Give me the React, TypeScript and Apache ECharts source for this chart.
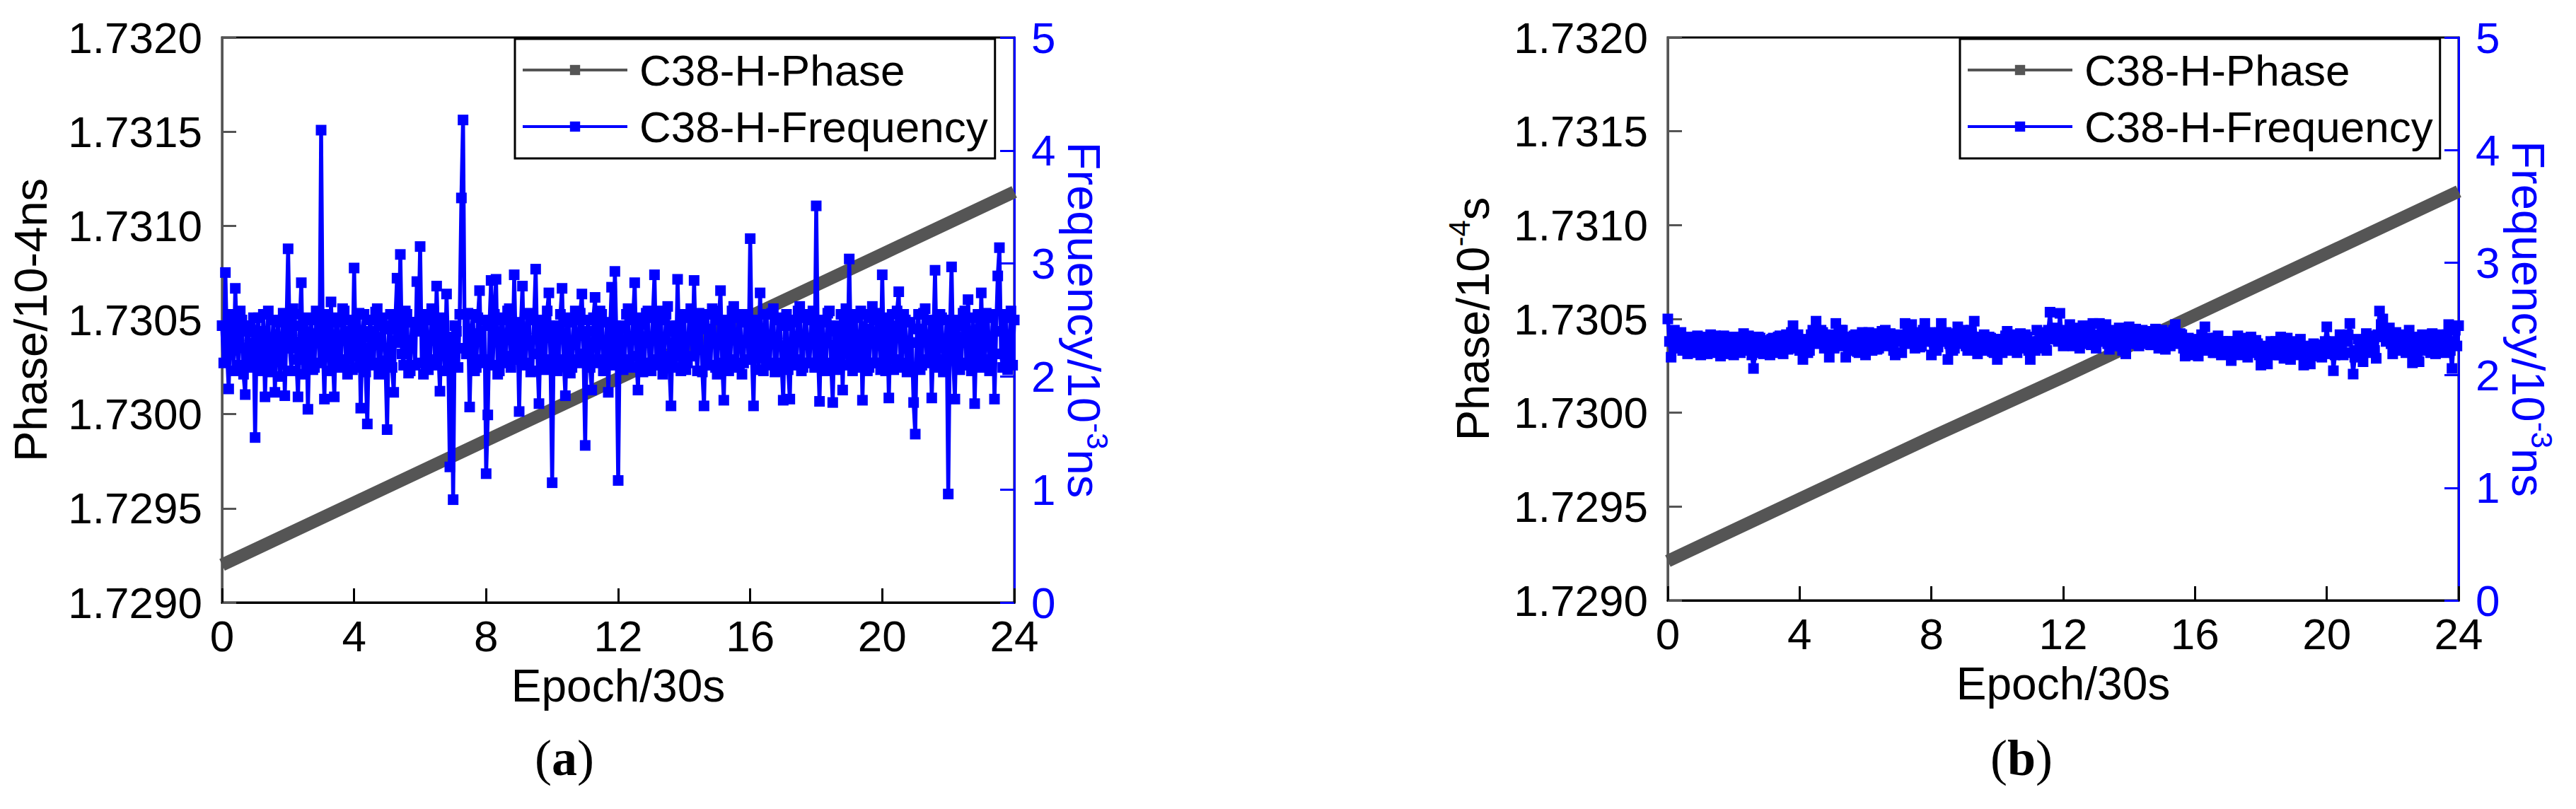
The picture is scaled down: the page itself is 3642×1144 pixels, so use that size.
import React, { useEffect, useRef } from "react";
import * as echarts from "echarts";

const FONT = '"Liberation Sans", Arial, sans-serif';
const SERIF = '"Liberation Serif", "Times New Roman", serif';

const SERIES_NAMES = ["C38-H-Phase", "C38-H-Frequency"];
const X_TICKS = [0, 4, 8, 12, 16, 20, 24];
const EPOCH_STEP = 0.05;

// Phase (10^-4 s) read at the x ticks
const phaseEpochs = [0, 4, 8, 12, 16, 20, 24];
const phaseA = [1.7292, 1.72953, 1.72986, 1.73019, 1.73052, 1.73085, 1.73118];
const phaseB = [1.72921, 1.72954, 1.72987, 1.73019, 1.73052, 1.73085, 1.73118];

// Frequency (10^-3 ns), panel (a), one value every 0.05 epoch unit (20 per row)
const freqA = [
  2.45, 2.12, 2.92, 2.20, 1.89, 2.48, 2.55, 2.05, 2.78, 2.30, 2.10, 2.58, 2.50, 2.02, 1.84, 2.45, 2.40, 2.08, 2.15, 2.52,
  1.46, 2.40, 2.52, 2.10, 2.05, 2.55, 1.82, 2.30, 2.58, 2.04, 2.12, 2.50, 1.86, 2.35, 2.48, 2.00, 2.20, 2.56, 1.83, 2.42,
  3.13, 2.25, 2.05, 2.60, 2.55, 2.15, 1.82, 2.45, 2.83, 2.02, 2.18, 2.52, 1.71, 2.38, 2.50, 2.06, 2.08, 2.58, 2.56, 2.12,
  4.18, 2.30, 1.80, 2.55, 2.45, 2.05, 2.66, 2.20, 1.82, 2.48, 2.52, 2.08, 2.10, 2.60, 2.58, 2.15, 2.02, 2.50, 2.40, 2.06,
  2.96, 2.18, 2.08, 2.56, 1.72, 2.35, 2.55, 2.04, 1.58, 2.40, 2.50, 2.10, 2.12, 2.57, 2.60, 2.02, 2.05, 2.52, 2.45, 2.14,
  1.53, 2.42, 2.55, 2.08, 1.86, 2.50, 2.87, 2.30, 3.08, 2.20, 2.10, 2.58, 2.55, 2.03, 2.05, 2.48, 2.48, 2.10, 2.84, 2.40,
  3.15, 2.12, 2.02, 2.55, 2.50, 2.06, 2.15, 2.60, 2.58, 2.10, 2.80, 2.25, 1.87, 2.52, 2.45, 2.05, 2.73, 2.20, 1.20, 2.35,
  0.91, 2.45, 2.40, 2.08, 2.55, 3.58, 4.27, 2.25, 2.20, 2.56, 1.73, 2.38, 2.55, 2.05, 2.08, 2.52, 2.76, 2.12, 2.15, 2.50,
  1.14, 1.66, 2.45, 2.85, 2.10, 2.55, 2.86, 2.02, 2.05, 2.50, 2.52, 2.12, 2.18, 2.58, 2.60, 2.08, 2.15, 2.90, 2.20, 2.48,
  1.69, 2.42, 2.80, 2.10, 2.12, 2.56, 2.55, 2.04, 2.05, 2.50, 2.95, 2.20, 1.76, 2.45, 2.50, 2.06, 2.15, 2.58, 2.74, 2.12,
  1.06, 2.38, 2.45, 2.05, 2.10, 2.55, 2.78, 2.15, 1.83, 2.48, 2.52, 2.03, 2.08, 2.50, 2.58, 2.12, 2.15, 2.56, 2.73, 2.20,
  1.39, 2.40, 2.50, 2.08, 1.88, 2.52, 2.70, 2.15, 2.12, 2.58, 2.55, 2.05, 2.05, 2.48, 1.86, 2.35, 2.79, 2.10, 2.93, 2.30,
  1.08, 2.42, 2.45, 2.06, 2.15, 2.55, 2.60, 2.10, 2.08, 2.50, 2.83, 2.18, 1.88, 2.46, 2.52, 2.04, 2.12, 2.56, 2.58, 2.10,
  2.05, 2.52, 2.90, 2.15, 2.10, 2.58, 2.50, 2.02, 2.18, 2.55, 2.62, 2.10, 1.74, 2.40, 2.45, 2.08, 2.86, 2.20, 2.05, 2.54,
  2.55, 2.06, 2.12, 2.52, 2.60, 2.18, 2.85, 2.25, 2.05, 2.56, 2.48, 2.04, 1.74, 2.42, 2.55, 2.10, 2.10, 2.60, 2.58, 2.08,
  2.02, 2.50, 2.76, 2.12, 1.79, 2.45, 2.50, 2.05, 2.15, 2.58, 2.62, 2.10, 2.08, 2.55, 2.52, 2.02, 2.12, 2.48, 2.55, 2.15,
  3.22, 2.20, 1.74, 2.50, 2.45, 2.06, 2.74, 2.18, 2.05, 2.55, 2.55, 2.10, 2.12, 2.56, 2.60, 2.04, 2.05, 2.52, 2.50, 2.12,
  1.79, 2.45, 2.55, 2.06, 1.80, 2.50, 2.48, 2.10, 2.15, 2.58, 2.62, 2.05, 2.08, 2.55, 2.52, 2.12, 2.12, 2.50, 2.58, 2.08,
  3.51, 2.25, 1.78, 2.48, 2.50, 2.05, 2.10, 2.56, 2.58, 2.12, 1.77, 2.40, 2.45, 2.06, 2.15, 2.55, 1.88, 2.42, 2.60, 2.10,
  3.04, 2.18, 2.05, 2.55, 2.52, 2.08, 2.15, 2.58, 1.79, 2.42, 2.55, 2.05, 2.08, 2.52, 2.62, 2.12, 2.12, 2.56, 2.50, 2.06,
  2.90, 2.15, 2.05, 2.52, 1.81, 2.45, 2.55, 2.06, 2.15, 2.58, 2.75, 2.10, 2.08, 2.55, 2.50, 2.04, 2.12, 2.48, 2.30, 1.77,
  1.49, 2.42, 2.55, 2.06, 2.10, 2.56, 2.60, 2.12, 2.15, 2.50, 1.81, 2.35, 2.94, 2.10, 2.08, 2.55, 2.52, 2.04, 2.15, 2.50,
  0.96, 2.40, 2.97, 2.15, 1.80, 2.45, 2.50, 2.06, 2.12, 2.56, 2.58, 2.10, 2.68, 2.20, 2.05, 2.52, 1.76, 2.38, 2.55, 2.08,
  2.74, 2.15, 2.10, 2.56, 2.52, 2.05, 2.15, 2.55, 1.80, 2.40, 2.89, 3.14, 2.20, 2.08, 2.52, 2.55, 2.06, 2.12, 2.58, 2.10,
  2.50,
];

// Frequency (10^-3 ns), panel (b), one value every 0.05 epoch unit (20 per row)
const freqB = [
  2.50, 2.30, 2.16, 2.35, 2.40, 2.24, 2.28, 2.36, 2.38, 2.22, 2.25, 2.33, 2.19, 2.27, 2.34, 2.21, 2.20, 2.32, 2.35, 2.22,
  2.18, 2.30, 2.34, 2.22, 2.19, 2.31, 2.36, 2.24, 2.20, 2.35, 2.33, 2.21, 2.17, 2.30, 2.35, 2.22, 2.19, 2.34, 2.32, 2.20,
  2.18, 2.32, 2.34, 2.21, 2.20, 2.33, 2.37, 2.24, 2.22, 2.35, 2.30, 2.18, 2.06, 2.20, 2.25, 2.34, 2.33, 2.21, 2.19, 2.30,
  2.31, 2.20, 2.18, 2.32, 2.33, 2.21, 2.20, 2.34, 2.35, 2.22, 2.19, 2.33, 2.36, 2.23, 2.24, 2.38, 2.44, 2.26, 2.28, 2.36,
  2.22, 2.30, 2.14, 2.28, 2.32, 2.20, 2.22, 2.36, 2.40, 2.28, 2.48, 2.32, 2.30, 2.40, 2.38, 2.24, 2.25, 2.35, 2.16, 2.30,
  2.36, 2.24, 2.46, 2.30, 2.28, 2.40, 2.40, 2.26, 2.16, 2.30, 2.34, 2.22, 2.22, 2.35, 2.36, 2.21, 2.20, 2.34, 2.38, 2.23,
  2.18, 2.33, 2.38, 2.24, 2.22, 2.35, 2.37, 2.23, 2.24, 2.36, 2.39, 2.27, 2.40, 2.30, 2.26, 2.37, 2.35, 2.22, 2.18, 2.32,
  2.30, 2.36, 2.20, 2.34, 2.46, 2.28, 2.30, 2.42, 2.45, 2.30, 2.24, 2.36, 2.38, 2.25, 2.26, 2.40, 2.46, 2.32, 2.30, 2.38,
  2.18, 2.30, 2.35, 2.22, 2.25, 2.38, 2.46, 2.30, 2.30, 2.38, 2.14, 2.28, 2.36, 2.22, 2.24, 2.37, 2.43, 2.30, 2.28, 2.40,
  2.38, 2.26, 2.22, 2.35, 2.40, 2.28, 2.48, 2.32, 2.19, 2.30, 2.34, 2.22, 2.36, 2.25, 2.22, 2.34, 2.33, 2.21, 2.20, 2.32,
  2.14, 2.28, 2.32, 2.20, 2.24, 2.35, 2.39, 2.26, 2.22, 2.34, 2.36, 2.23, 2.20, 2.33, 2.37, 2.24, 2.25, 2.36, 2.34, 2.22,
  2.14, 2.26, 2.30, 2.22, 2.40, 2.30, 2.25, 2.36, 2.38, 2.24, 2.22, 2.40, 2.56, 2.36, 2.32, 2.42, 2.40, 2.30, 2.55, 2.34,
  2.26, 2.38, 2.40, 2.28, 2.45, 2.32, 2.26, 2.40, 2.42, 2.27, 2.24, 2.38, 2.44, 2.30, 2.28, 2.40, 2.38, 2.27, 2.46, 2.32,
  2.24, 2.36, 2.46, 2.30, 2.30, 2.40, 2.45, 2.28, 2.23, 2.36, 2.40, 2.26, 2.28, 2.38, 2.42, 2.26, 2.22, 2.34, 2.19, 2.32,
  2.43, 2.30, 2.28, 2.38, 2.41, 2.28, 2.26, 2.37, 2.40, 2.28, 2.30, 2.39, 2.38, 2.27, 2.27, 2.38, 2.41, 2.29, 2.24, 2.36,
  2.40, 2.28, 2.23, 2.35, 2.38, 2.26, 2.30, 2.40, 2.45, 2.30, 2.28, 2.37, 2.36, 2.24, 2.17, 2.30, 2.33, 2.22, 2.18, 2.32,
  2.30, 2.22, 2.17, 2.30, 2.36, 2.26, 2.43, 2.30, 2.22, 2.33, 2.32, 2.20, 2.20, 2.33, 2.35, 2.22, 2.18, 2.30, 2.30, 2.20,
  2.22, 2.30, 2.13, 2.26, 2.30, 2.20, 2.35, 2.24, 2.18, 2.30, 2.33, 2.20, 2.16, 2.28, 2.34, 2.22, 2.20, 2.31, 2.28, 2.18,
  2.09, 2.22, 2.26, 2.16, 2.10, 2.24, 2.30, 2.19, 2.18, 2.30, 2.28, 2.18, 2.34, 2.22, 2.15, 2.28, 2.33, 2.20, 2.14, 2.27,
  2.30, 2.20, 2.18, 2.28, 2.32, 2.20, 2.09, 2.22, 2.26, 2.16, 2.10, 2.24, 2.28, 2.18, 2.17, 2.27, 2.25, 2.16, 2.20, 2.30,
  2.43, 2.28, 2.19, 2.30, 2.04, 2.18, 2.28, 2.20, 2.36, 2.24, 2.18, 2.30, 2.30, 2.36, 2.46, 2.20, 2.01, 2.16, 2.22, 2.32,
  2.30, 2.20, 2.12, 2.28, 2.37, 2.24, 2.20, 2.34, 2.35, 2.22, 2.15, 2.36, 2.57, 2.45, 2.50, 2.34, 2.30, 2.40, 2.42, 2.28,
  2.19, 2.32, 2.38, 2.24, 2.22, 2.34, 2.36, 2.22, 2.20, 2.35, 2.40, 2.24, 2.11, 2.26, 2.34, 2.20, 2.12, 2.30, 2.36, 2.22,
  2.22, 2.34, 2.30, 2.20, 2.37, 2.26, 2.19, 2.32, 2.32, 2.22, 2.36, 2.24, 2.20, 2.36, 2.45, 2.22, 2.06, 2.30, 2.40, 2.26,
  2.44,
];

const PHASE_MIN = 1.729;
const PHASE_MAX = 1.732;
const PHASE_STEP = 0.0005;
const FREQ_MIN = 0;
const FREQ_MAX = 5;
const FREQ_STEP = 1;

const GRAY = "#555555";
const BLUE = "#0000ff";

const pairs = (xs: number[], ys: number[]) => ys.map((v, i) => [xs[i], v]);
const epochsFor = (vals: number[]) => vals.map((_, i) => Math.round(i * EPOCH_STEP * 100) / 100);

function buildOption() {
  const grids = [
    { left: 314, top: 53, width: 1120, height: 799 },
    { left: 2358, top: 53, width: 1118, height: 796 },
  ];
  const xAxes = grids.map((_, gi) => ({
    type: "value",
    gridIndex: gi,
    min: X_TICKS[0],
    max: X_TICKS[X_TICKS.length - 1],
    interval: 4,
    name: "Epoch/30s",
    nameLocation: "middle",
    nameGap: 86,
    nameTextStyle: { fontSize: 64, fontFamily: FONT, color: "#000" },
    axisLine: { show: true, onZero: false, lineStyle: { color: "#000", width: 3 } },
    axisTick: { show: true, inside: true, length: 20, lineStyle: { color: "#000", width: 3 } },
    axisLabel: { fontSize: 62, fontFamily: FONT, color: "#000", margin: 16 },
    splitLine: { show: false },
  }));
  const leftNames = ["Phase/10-4ns", "{n|Phase/10}{sup|-4}{n|s}"];
  const rightNames = ["{n|Frequency/10}{sup|-3}{n|ns}", "{n|Frequency/10}{sup|-3}{n|ns}"];
  const yAxes: any[] = [];
  grids.forEach((_, gi) => {
    yAxes.push({
      type: "value",
      gridIndex: gi,
      position: "left",
      min: PHASE_MIN,
      max: PHASE_MAX,
      interval: PHASE_STEP,
      name: leftNames[gi],
      nameLocation: "middle",
      nameGap: gi === 0 ? 238 : 236,
      nameTextStyle: {
        fontSize: 65,
        fontFamily: FONT,
        color: "#000",
        rich: {
          n: { fontSize: 65, fontFamily: FONT, color: "#000", lineHeight: 80 },
          sup: { fontSize: 42, fontFamily: FONT, color: "#000", lineHeight: 42, verticalAlign: "top" },
        },
      },
      axisLine: { show: true, onZero: false, lineStyle: { color: GRAY, width: 3 } },
      axisTick: { show: true, inside: true, length: 20, lineStyle: { color: GRAY, width: 3 } },
      axisLabel: {
        fontSize: 62,
        fontFamily: FONT,
        color: "#000",
        margin: 28,
        formatter: (v: number) => v.toFixed(4),
      },
      splitLine: { show: false },
    });
    yAxes.push({
      type: "value",
      gridIndex: gi,
      position: "right",
      min: FREQ_MIN,
      max: FREQ_MAX,
      interval: FREQ_STEP,
      name: rightNames[gi],
      nameLocation: "middle",
      nameRotate: -90,
      nameGap: 58,
      nameTextStyle: {
        fontSize: 65,
        fontFamily: FONT,
        color: BLUE,
        rich: {
          n: { fontSize: 65, fontFamily: FONT, color: BLUE, lineHeight: 80 },
          sup: { fontSize: 42, fontFamily: FONT, color: BLUE, lineHeight: 42, verticalAlign: "top" },
        },
      },
      axisLine: { show: true, onZero: false, lineStyle: { color: BLUE, width: 3 } },
      axisTick: { show: true, inside: true, length: 20, lineStyle: { color: BLUE, width: 3 } },
      axisLabel: { fontSize: 62, fontFamily: FONT, color: BLUE, margin: 24 },
      splitLine: { show: false },
    });
  });

  const phases = [phaseA, phaseB];
  const freqs = [freqA, freqB];
  const series: any[] = [];
  grids.forEach((_, gi) => {
    series.push({
      name: SERIES_NAMES[0],
      type: "line",
      xAxisIndex: gi,
      yAxisIndex: gi * 2,
      data: pairs(phaseEpochs, phases[gi]),
      symbol: "rect",
      symbolSize: 14,
      showSymbol: false,
      lineStyle: { color: GRAY, width: 18 },
      itemStyle: { color: GRAY },
      z: 2,
    });
    series.push({
      name: SERIES_NAMES[1],
      type: "line",
      xAxisIndex: gi,
      yAxisIndex: gi * 2 + 1,
      data: pairs(epochsFor(freqs[gi]), freqs[gi]),
      symbol: "rect",
      symbolSize: 15,
      lineStyle: { color: BLUE, width: 5.5, join: "bevel" },
      itemStyle: { color: BLUE },
      z: 3,
    });
  });

  const legendBase = {
    orient: "vertical",
    top: 55,
    itemWidth: 148,
    itemHeight: 18,
    itemGap: 18,
    padding: [13, 10, 14, 9],
    borderColor: "#000",
    borderWidth: 3,
    borderRadius: 0,
    backgroundColor: "#fff",
    selectedMode: false,
    data: SERIES_NAMES,
    lineStyle: { width: 4 },
    textStyle: { fontSize: 62, fontFamily: FONT, color: "#000", padding: [0, 0, 0, 12] },
    z: 10,
  };

  const panelLabel = (x: number, letter: string) => ({
    type: "text",
    x,
    y: 1072,
    style: {
      text: "{p|(}{b|" + letter + "}{p|)}",
      textAlign: "center",
      textVerticalAlign: "middle",
      rich: {
        p: { fontSize: 72, fontFamily: SERIF, color: "#000" },
        b: { fontSize: 72, fontFamily: SERIF, fontWeight: "bold", color: "#000" },
      },
    },
  });

  return {
    animation: false,
    backgroundColor: "#fff",
    grid: grids.map((g) => ({ ...g, show: true, borderColor: "#000", borderWidth: 3, containLabel: false })),
    xAxis: xAxes,
    yAxis: yAxes,
    legend: [
      { ...legendBase, left: 728 },
      { ...legendBase, left: 2771 },
    ],
    series,
    graphic: [panelLabel(798, "a"), panelLabel(2858, "b")],
  };
}

export default function App() {
  const ref = useRef<HTMLDivElement>(null);
  useEffect(() => {
    if (!ref.current) return;
    const chart = echarts.init(ref.current, undefined, { renderer: "svg" });
    chart.setOption(buildOption() as any);
    return () => chart.dispose();
  }, []);
  return (
    <div
      ref={ref}
      style={{ position: "absolute", left: 0, top: 0, width: 3642, height: 1144, background: "#fff" }}
    />
  );
}
